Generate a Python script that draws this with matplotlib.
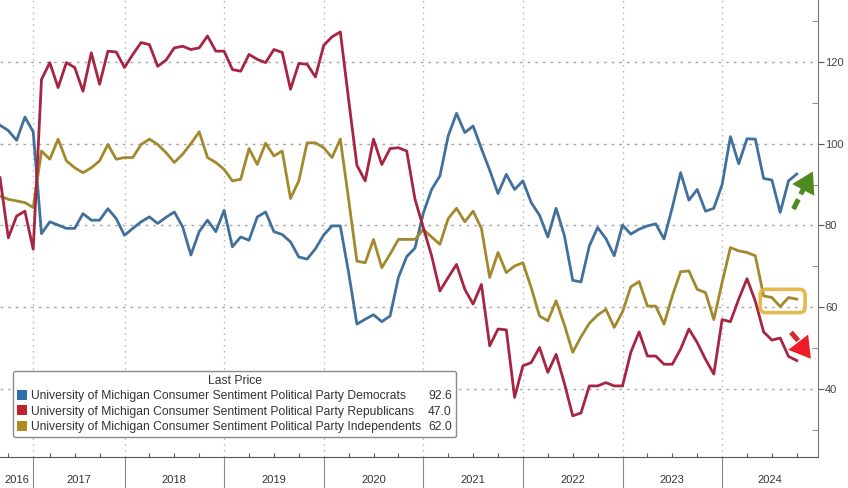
import numpy as np
import matplotlib.pyplot as plt
from matplotlib.patches import Patch, FancyBboxPatch
from matplotlib.lines import Line2D
from matplotlib.transforms import blended_transform_factory

# monthly readings, Aug 2016 .. Sep 2024
democrats = [104.5, 103.2, 100.8, 106.5, 102.9, 78.0, 80.9, 80.1, 79.3, 79.3,
             82.9, 81.3, 81.3, 84.1, 81.7, 77.6, 79.3, 80.9, 82.1, 80.5,
             82.0, 83.3, 79.7, 72.8, 78.5, 81.3, 78.5, 83.7, 74.8, 77.2,
             76.4, 82.1, 83.3, 78.5, 77.8, 76.0, 72.3, 71.8, 74.3, 77.7,
             79.9, 79.9, 68.5, 55.9, 57.1, 58.2, 56.5, 57.9, 67.3, 72.4,
             74.5, 83.0, 88.8, 92.1, 101.9, 107.4, 102.7, 104.3, 98.8, 93.5,
             87.8, 92.5, 88.8, 90.9, 85.6, 82.5, 77.2, 84.2, 77.5, 66.6,
             66.2, 75.0, 79.5, 76.8, 72.6, 80.1, 77.9, 79.1, 79.9, 80.4,
             76.7, 84.4, 92.9, 86.2, 88.8, 83.5, 84.2, 90.0, 101.7, 95.1,
             101.2, 101.1, 91.5, 91.1, 83.2, 90.9, 92.6]
republicans = [91.7, 77.0, 82.3, 83.5, 74.2, 115.7, 119.8, 113.7, 119.8, 118.6,
               112.8, 122.2, 114.5, 122.6, 122.4, 118.6, 121.8, 124.7, 124.2, 118.9,
               120.4, 123.4, 123.8, 123.0, 123.4, 126.3, 122.6, 122.6, 118.1, 117.7,
               121.8, 120.6, 119.8, 123.0, 122.3, 113.3, 119.6, 119.4, 116.3, 124.0,
               126.1, 127.3, 110.8, 94.7, 90.9, 101.1, 94.9, 98.8, 99.0, 98.2,
               86.4, 79.5, 72.6, 64.0, 67.3, 70.5, 64.4, 60.8, 65.6, 50.6,
               54.7, 54.5, 38.0, 45.7, 46.5, 50.2, 44.1, 48.5, 41.4, 33.5,
               34.2, 40.8, 40.8, 41.6, 40.8, 40.8, 49.0, 54.0, 48.1, 48.1,
               46.1, 46.1, 49.8, 54.7, 51.4, 47.3, 43.7, 57.0, 56.5, 62.0,
               67.0, 61.5, 54.0, 52.0, 52.5, 48.0, 47.0]
independents = [87.2, 86.4, 86.0, 85.6, 84.4, 98.2, 96.2, 101.1, 95.8, 94.1,
                92.9, 94.1, 95.8, 99.8, 96.2, 96.6, 96.6, 99.8, 101.1, 99.8,
                97.8, 95.4, 97.4, 100.0, 102.9, 96.6, 95.4, 93.7, 90.9, 91.3,
                98.8, 94.9, 100.1, 97.0, 98.2, 86.6, 90.9, 100.2, 100.2, 99.0,
                96.6, 101.1, 86.4, 71.3, 70.9, 76.6, 69.7, 73.0, 76.6, 76.6,
                76.6, 79.0, 77.2, 75.4, 81.7, 84.2, 80.9, 83.5, 79.3, 67.3,
                73.4, 68.5, 70.1, 70.9, 64.8, 57.9, 56.7, 61.6, 55.7, 49.0,
                52.8, 56.1, 58.1, 59.5, 55.1, 58.9, 65.0, 66.3, 60.3, 60.3,
                55.9, 62.8, 68.7, 68.9, 64.4, 63.6, 57.0, 66.1, 74.6, 73.8,
                73.4, 72.6, 62.8, 62.4, 60.2, 62.4, 62.0]

years = ['2016', '2017', '2018', '2019', '2020', '2021', '2022', '2023', '2024']
year_starts = [0, 4, 15, 27, 39, 51, 63, 75, 87]
quarter_ticks = [1, 6, 9, 12] + [s + q for s in year_starts[2:] for q in (3, 6, 9)]
names = ['University of Michigan Consumer Sentiment Political Party Democrats',
         'University of Michigan Consumer Sentiment Political Party Republicans',
         'University of Michigan Consumer Sentiment Political Party Independents']
last_values = [92.6, 47.0, 62.0]

line_colors = ['#40709b', '#a52542', '#a3892e']
key_colors = ['#2f6ea8', '#c0202f', '#b0891f']

plt.rcParams['font.family'] = ['Liberation Sans', 'DejaVu Sans']

months = np.arange(len(democrats))
x_end = 98.55

fig = plt.figure(figsize=(8.48, 4.88), dpi=100)
ax = fig.add_axes([0, 0.0641, 0.9646, 0.9359])

ax.plot(months, democrats, color=line_colors[0], lw=2.0, zorder=3)
ax.plot(months, independents, color=line_colors[2], lw=2.0, zorder=3)
ax.plot(months, republicans, color=line_colors[1], lw=2.0, zorder=3)

ax.set_xlim(0, x_end)
ax.set_ylim(23.5, 135.1)

for s in ['left', 'top']:
    ax.spines[s].set_visible(False)
ax.spines['right'].set_color('#777777')
ax.spines['bottom'].set_color('#555555')

# right axis
ax.yaxis.tick_right()
ax.set_yticks([40, 60, 80, 100, 120])
ax.set_yticks(np.arange(30, 135, 20), minor=True)
ax.tick_params(axis='y', which='major', direction='out', length=4, pad=1,
               labelsize=8, colors='#555555', labelcolor='#444444')
ax.tick_params(axis='y', which='minor', direction='in', length=4, colors='#777777')

# bottom axis: year separators + quarter ticks
ax.set_xticks(year_starts[1:])
ax.set_xticklabels([])
ax.set_xticks(quarter_ticks, minor=True)
ax.tick_params(axis='x', which='major', direction='out', length=23, width=0.8,
               colors='#888888')
ax.tick_params(axis='x', which='minor', direction='in', length=3, width=0.8,
               colors='#555555')

ax.grid(axis='y', which='major', linestyle=(0, (2, 3.5)), color='#a8a8a8', lw=1)
ax.grid(axis='x', which='major', linestyle=(0, (1.2, 3)), color='#bbbbbb', lw=1)

trans = blended_transform_factory(ax.transData, ax.transAxes)
bounds = year_starts + [x_end]
for i, yr in enumerate(years):
    ax.text((bounds[i] + bounds[i + 1]) / 2, -0.051, yr, transform=trans,
            ha='center', va='center', fontsize=8, color='#333333')

# legend
handles = [Patch(facecolor=c, edgecolor='none') for c in key_colors]
handles += [Line2D([], [], linestyle='none') for _ in last_values]
labels = names + [f'{v:.1f}' for v in last_values]
leg = ax.legend(handles, labels, ncol=2, title='Last Price',
                loc='lower left', bbox_to_anchor=(0.0159, 0.043),
                borderaxespad=0, fontsize=8.7, title_fontsize=8.7,
                handlelength=0.8, handleheight=0.9, handletextpad=0.3,
                columnspacing=-0.5, labelspacing=0.25, borderpad=0.35,
                frameon=True, fancybox=True, edgecolor='#8a8a8a',
                framealpha=1)
leg.get_frame().set_linewidth(1.0)
for t in leg.get_texts():
    t.set_color('#333333')
leg.get_title().set_color('#333333')

# annotations
ax.plot([95.6, 97.1], [84.0, 90.2], ls=(0, (2.2, 1.1)), lw=3.6,
        color='#4e8a1e', solid_capstyle='butt', zorder=4)
ax.annotate('', xy=(98.1, 93.8), xytext=(96.9, 89.2),
            arrowprops=dict(arrowstyle='-|>,head_width=0.45,head_length=0.75',
                            color='#4e8a1e', lw=0, mutation_scale=20), zorder=4)
ax.plot([95.3, 96.7], [53.9, 50.6], ls=(0, (2.2, 1.1)), lw=3.6,
        color='#d82a2a', solid_capstyle='butt', zorder=4)
ax.annotate('', xy=(97.9, 46.9), xytext=(96.5, 50.6),
            arrowprops=dict(arrowstyle='-|>,head_width=0.45,head_length=0.75',
                            color='#ee1c25', lw=0, mutation_scale=20), zorder=4)
box = FancyBboxPatch((91.6, 58.7), 5.4, 5.7,
                     boxstyle='round,pad=0,rounding_size=0.7',
                     mutation_aspect=2.03, facecolor='none',
                     edgecolor='#e3b23c', lw=2.6, alpha=0.9, zorder=4)
ax.add_patch(box)

fig.savefig('out.png', dpi=100)
